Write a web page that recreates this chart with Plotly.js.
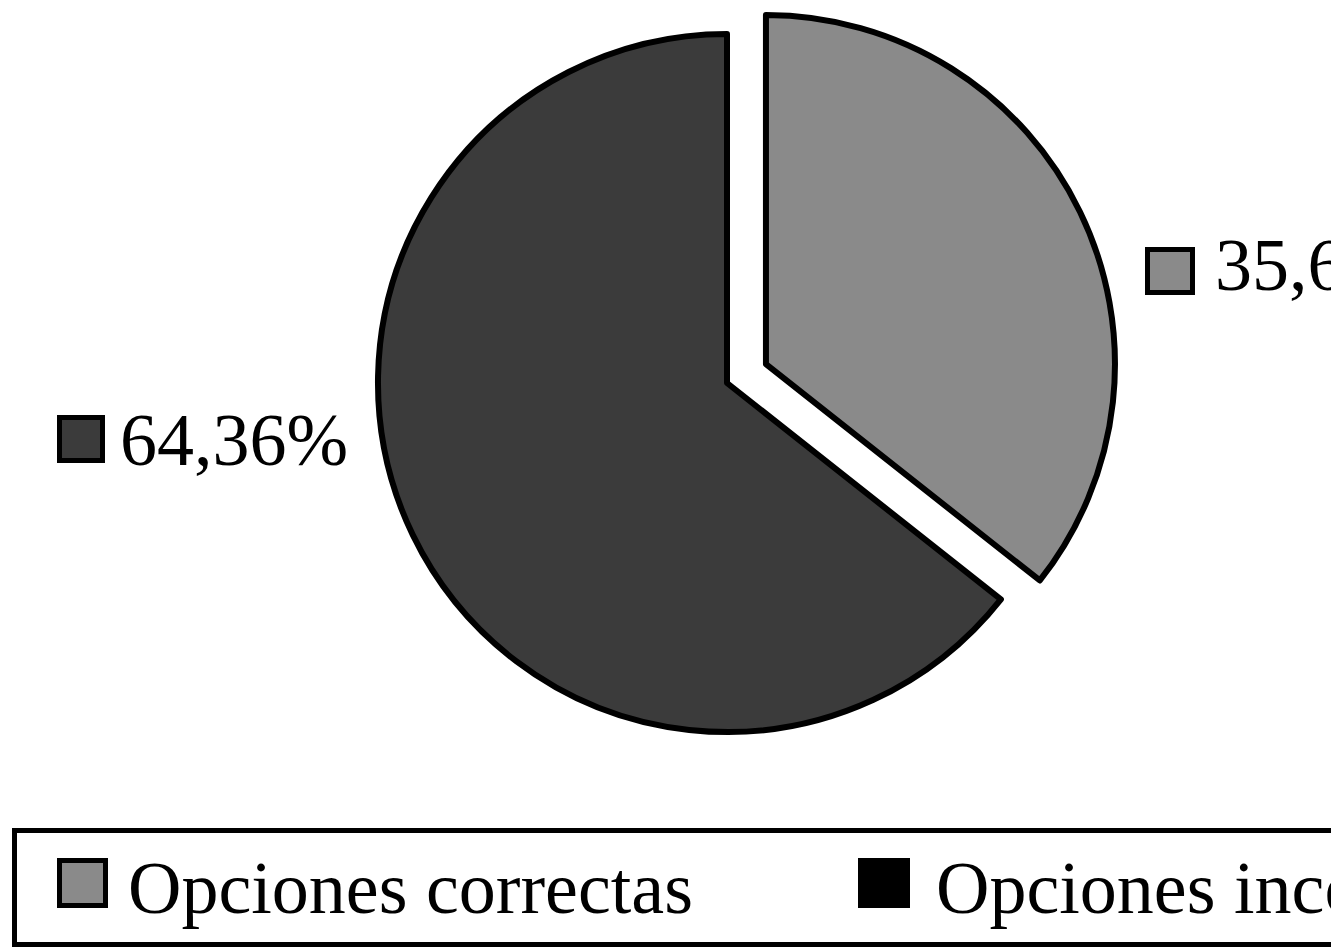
<!DOCTYPE html>
<html>
<head>
<meta charset="utf-8">
<script src="https://cdn.plot.ly/plotly-3.0.1.min.js"></script>
<style>
  html, body { margin: 0; padding: 0; background: #fff; overflow: hidden; }
  #chart { position: absolute; left: 0; top: -10px; width: 1331px; height: 960px; }
</style>
</head>
<body>
<div id="chart"></div>
<script>
// ---- data ----
const categories = ["Opciones correctas", "Opciones incorrectas"];
const values = [35.64, 64.36];
const sliceColors = ["#8a8a8a", "#3b3b3b"];
const legendSwatchColors = ["#8a8a8a", "#000000"];

// ---- helpers (page pixel -> paper fraction) ----
const W = 1331, H = 960, OFF = 10;
const px = x => x / W;
const py = y => 1 - (y + OFF) / H;
const fmt = v => v.toFixed(2).replace('.', ',') + '%';
const FONT = "Liberation Serif, 'Times New Roman', Times, serif";

const trace = {
  type: 'pie',
  labels: categories,
  values: values,
  sort: false,
  direction: 'clockwise',
  rotation: 0,
  pull: [0.124, 0],
  marker: { colors: sliceColors, line: { color: '#000', width: 6 } },
  textinfo: 'none',
  hoverinfo: 'label+percent',
  showlegend: false,
  domain: { x: [px(334.7), px(1119.3)], y: [py(785.3 - OFF), py(0.7 - OFF)] }
};

// value labels (outside pie) with small swatches
const labelSpecs = [
  { i: 0, sw: [1145, 247, 1195, 295], tx: 1213, ty: 265 },
  { i: 1, sw: [57, 415, 105, 463], tx: 118, ty: 440 }
];
// legend entries
const legendSpecs = [
  { i: 0, sw: [57, 858, 108, 908], tx: 126, ty: 888 },
  { i: 1, sw: [858, 858, 910, 908], tx: 934, ty: 888 }
];

const shapes = [];
const annotations = [];

// legend frame
shapes.push({
  type: 'rect', xref: 'paper', yref: 'paper',
  x0: px(14.5), x1: px(1360), y0: py(830.5), y1: py(944.5),
  line: { color: '#000', width: 5 }, fillcolor: 'rgba(0,0,0,0)'
});

labelSpecs.forEach(s => {
  shapes.push({
    type: 'rect', xref: 'paper', yref: 'paper',
    x0: px(s.sw[0] + 2.5), x1: px(s.sw[2] - 2.5), y0: py(s.sw[3] - 2.5), y1: py(s.sw[1] + 2.5),
    line: { color: '#000', width: 5 }, fillcolor: sliceColors[s.i]
  });
  annotations.push({
    xref: 'paper', yref: 'paper', x: px(s.tx), y: py(s.ty),
    xanchor: 'left', yanchor: 'middle', showarrow: false,
    text: fmt(values[s.i]), font: { family: FONT, size: 74, color: '#000' }
  });
});

legendSpecs.forEach(s => {
  shapes.push({
    type: 'rect', xref: 'paper', yref: 'paper',
    x0: px(s.sw[0] + 2.5), x1: px(s.sw[2] - 2.5), y0: py(s.sw[3] - 2.5), y1: py(s.sw[1] + 2.5),
    line: { color: '#000', width: 5 }, fillcolor: legendSwatchColors[s.i]
  });
  annotations.push({
    xref: 'paper', yref: 'paper', x: px(s.tx), y: py(s.ty),
    xanchor: 'left', yanchor: 'middle', showarrow: false,
    text: categories[s.i], font: { family: FONT, size: 74, color: '#000' }
  });
});

const layout = {
  width: W, height: H,
  margin: { l: 0, r: 0, t: 0, b: 0 },
  paper_bgcolor: '#ffffff',
  showlegend: false,
  shapes: shapes,
  annotations: annotations
};

Plotly.newPlot('chart', [trace], layout, { displayModeBar: false, staticPlot: true });
</script>
</body>
</html>
